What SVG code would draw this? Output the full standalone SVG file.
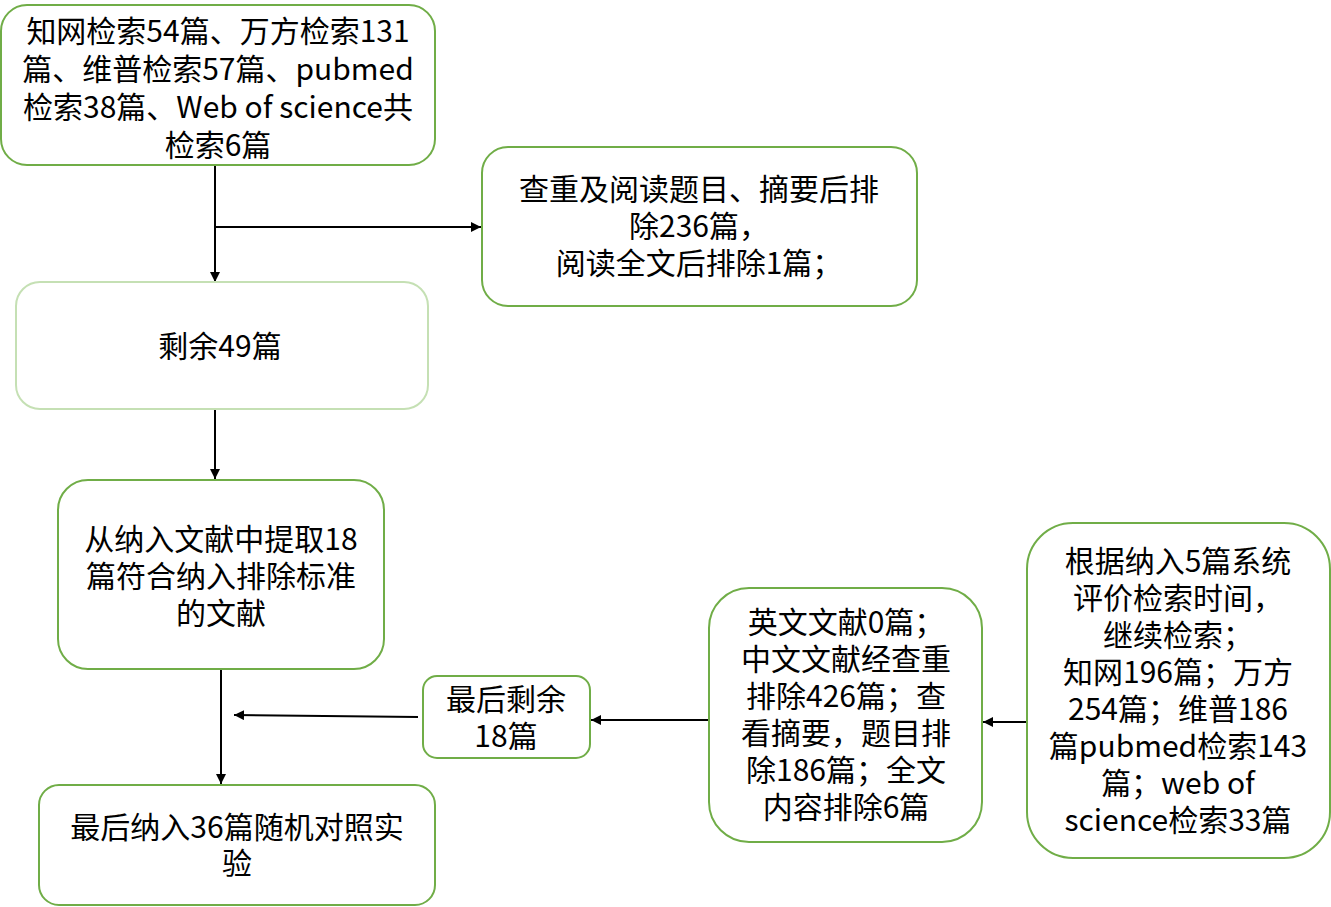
<svg xmlns="http://www.w3.org/2000/svg" width="1331" height="907" viewBox="0 0 1331 907">
<style>
.box{fill:#fff;stroke:#70AD47;stroke-width:2}
.light{stroke:#C5E0B4}
.t{font-family:"Noto Sans CJK SC","Liberation Sans",sans-serif;font-size:30px;fill:#000;text-anchor:middle}
.c{stroke:#000;stroke-width:2;fill:none;marker-end:url(#ah)}
</style>
<defs>
<marker id="ah" markerUnits="userSpaceOnUse" markerWidth="12" markerHeight="10" refX="10" refY="5" orient="auto">
<path d="M0,0 L10,5 L0,10 Z" fill="#000"/>
</marker>
</defs>
<rect width="1331" height="907" fill="#fff"/>
<g id="connectors">
<line class="c" x1="215" y1="165" x2="215" y2="282"/>
<line class="c" x1="215" y1="227" x2="481" y2="227"/>
<line class="c" x1="215" y1="409" x2="215" y2="479"/>
<line class="c" x1="221" y1="669" x2="221" y2="784"/>
<line class="c" x1="418" y1="717" x2="234" y2="715"/>
<line class="c" x1="708" y1="720" x2="591" y2="720"/>
<line class="c" x1="1027" y1="722" x2="983" y2="722"/>
</g>
<g id="n1">
<rect class="box" x="1" y="5" width="434" height="160" rx="26"/>
<text class="t"><tspan x="218" y="42">知网检索54篇、万方检索131</tspan><tspan x="218" y="80">篇、维普检索57篇、pubmed</tspan><tspan x="218" y="118">检索38篇、Web of science共</tspan><tspan x="218" y="156">检索6篇</tspan></text>
</g>
<g id="n2">
<rect class="box" x="482" y="147" width="435" height="159" rx="26"/>
<text class="t"><tspan x="699" y="200">查重及阅读题目、摘要后排</tspan><tspan x="699" y="237">除236篇，</tspan><tspan x="699" y="274">阅读全文后排除1篇；</tspan></text>
</g>
<g id="n3">
<rect class="box light" x="16" y="282" width="412" height="127" rx="24"/>
<text class="t" x="220" y="357">剩余49篇</text>
</g>
<g id="n4">
<rect class="box" x="58" y="480" width="326" height="189" rx="30"/>
<text class="t"><tspan x="221" y="550">从纳入文献中提取18</tspan><tspan x="221" y="587">篇符合纳入排除标准</tspan><tspan x="221" y="624">的文献</tspan></text>
</g>
<g id="n5">
<rect class="box" x="423" y="676" width="167" height="82" rx="14"/>
<text class="t"><tspan x="506" y="710">最后剩余</tspan><tspan x="506" y="747">18篇</tspan></text>
</g>
<g id="n6">
<rect class="box" x="709" y="588" width="273" height="254" rx="40"/>
<text class="t"><tspan x="846" y="633">英文文献0篇；</tspan><tspan x="846" y="670">中文文献经查重</tspan><tspan x="846" y="707">排除426篇；查</tspan><tspan x="846" y="744">看摘要，题目排</tspan><tspan x="846" y="781">除186篇；全文</tspan><tspan x="846" y="818">内容排除6篇</tspan></text>
</g>
<g id="n7">
<rect class="box" x="1027" y="523" width="303" height="335" rx="46"/>
<text class="t"><tspan x="1178" y="572">根据纳入5篇系统</tspan><tspan x="1178" y="609">评价检索时间，</tspan><tspan x="1178" y="646">继续检索；</tspan><tspan x="1178" y="683">知网196篇；万方</tspan><tspan x="1178" y="720">254篇；维普186</tspan><tspan x="1178" y="757">篇pubmed检索143</tspan><tspan x="1178" y="794">篇；web of</tspan><tspan x="1178" y="831">science检索33篇</tspan></text>
</g>
<g id="n8">
<rect class="box" x="39" y="785" width="396" height="120" rx="20"/>
<text class="t"><tspan x="237" y="838">最后纳入36篇随机对照实</tspan><tspan x="237" y="874">验</tspan></text>
</g>
</svg>
